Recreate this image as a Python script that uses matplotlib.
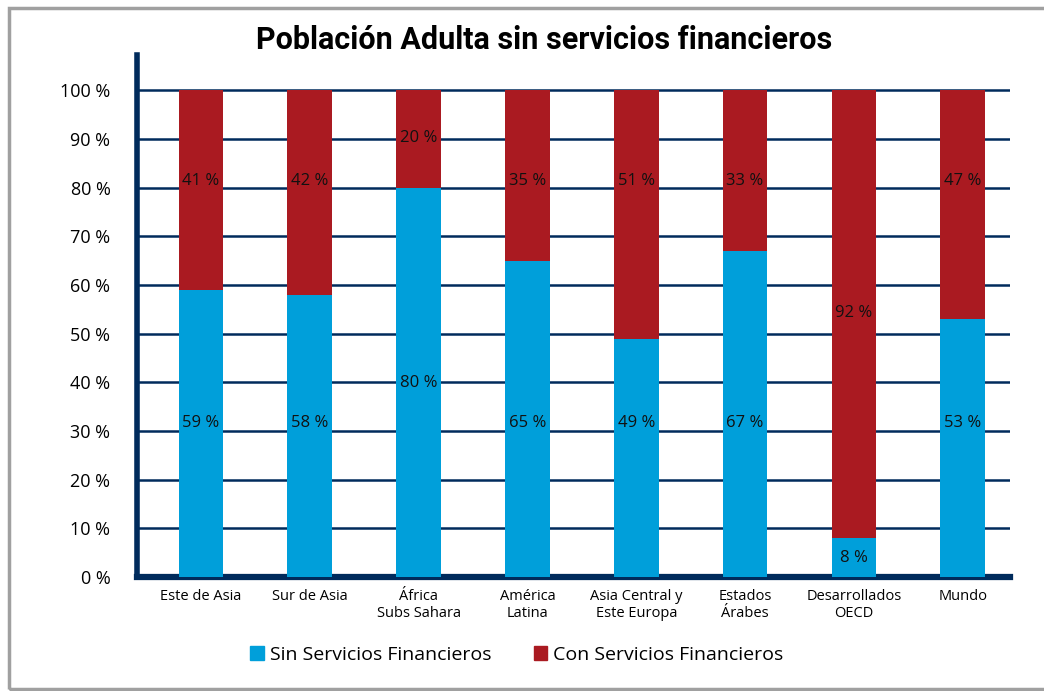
import matplotlib.pyplot as plt
from matplotlib.patches import Rectangle, Patch

# data
regiones = ['Este de Asia', 'Sur de Asia', 'África\nSubs Sahara', 'América\nLatina',
            'Asia Central y\nEste Europa', 'Estados\nÁrabes', 'Desarrollados\nOECD', 'Mundo']
sin_servicios = [59, 58, 80, 65, 49, 67, 8, 53]
con_servicios = [41, 42, 20, 35, 51, 33, 92, 47]
y_ticks = [0, 10, 20, 30, 40, 50, 60, 70, 80, 90, 100]

# label heights (layout)
sin_label_y = [31.6, 31.6, 39.8, 31.6, 31.6, 31.6, 3.9, 31.6]
con_label_y = [81.3, 81.3, 90.1, 81.3, 81.3, 81.3, 54.2, 81.3]

azul = '#009FDA'
rojo = '#AA1A21'
marino = '#002B5C'

plt.rcParams['font.family'] = ['Open Sans', 'DejaVu Sans']

fig = plt.figure(figsize=(10.44, 6.91), dpi=100)
ax = fig.add_axes([0.131, 0.165, 0.836, 0.755])

x = list(range(len(regiones)))
ax.bar(x, sin_servicios, width=0.41, color=azul, zorder=3)
ax.bar(x, con_servicios, width=0.41, bottom=sin_servicios, color=rojo, zorder=3)

for i in x:
    ax.text(i, sin_label_y[i], f'{sin_servicios[i]} %', ha='center', va='center',
            fontsize=12, color='#111111', zorder=4)
    ax.text(i, con_label_y[i], f'{con_servicios[i]} %', ha='center', va='center',
            fontsize=12, color='#111111', zorder=4)

ax.set_xlim(-0.59, 7.43)
ax.set_ylim(0, 107.2)
ax.set_yticks(y_ticks)
ax.set_yticklabels([f'{t} %' for t in y_ticks], fontsize=13)
ax.set_xticks(x)
ax.set_xticklabels(regiones, fontsize=10.5, linespacing=1.15)
ax.tick_params(axis='y', length=0, pad=19)
ax.tick_params(axis='x', length=0, pad=9)

for t in y_ticks[1:]:
    ax.axhline(t, color=marino, lw=1.8, zorder=1)

for s in ['top', 'right']:
    ax.spines[s].set_visible(False)
ax.spines['left'].set_color(marino)
ax.spines['left'].set_linewidth(4)
ax.spines['bottom'].set_color(marino)
ax.spines['bottom'].set_linewidth(4.5)

fig.text(0.521, 0.942, 'Población Adulta sin servicios financieros', ha='center', va='center',
         fontsize=22, fontweight='bold', family=['Roboto', 'DejaVu Sans'])

handles = [Patch(color=azul), Patch(color=rojo)]
fig.legend(handles, ['Sin Servicios Financieros', 'Con Servicios Financieros'],
           loc='center', bbox_to_anchor=(0.495, 0.052), ncol=2, frameon=False,
           fontsize=14, handlelength=0.7, handleheight=0.7, handletextpad=0.3,
           columnspacing=2.2)

# outer frame
fig.patches.append(Rectangle((0.009, 0.003), 1.1, 0.985, transform=fig.transFigure,
                             fill=False, edgecolor='#A0A0A0', lw=2.5))

fig.savefig('out.png', dpi=100)
